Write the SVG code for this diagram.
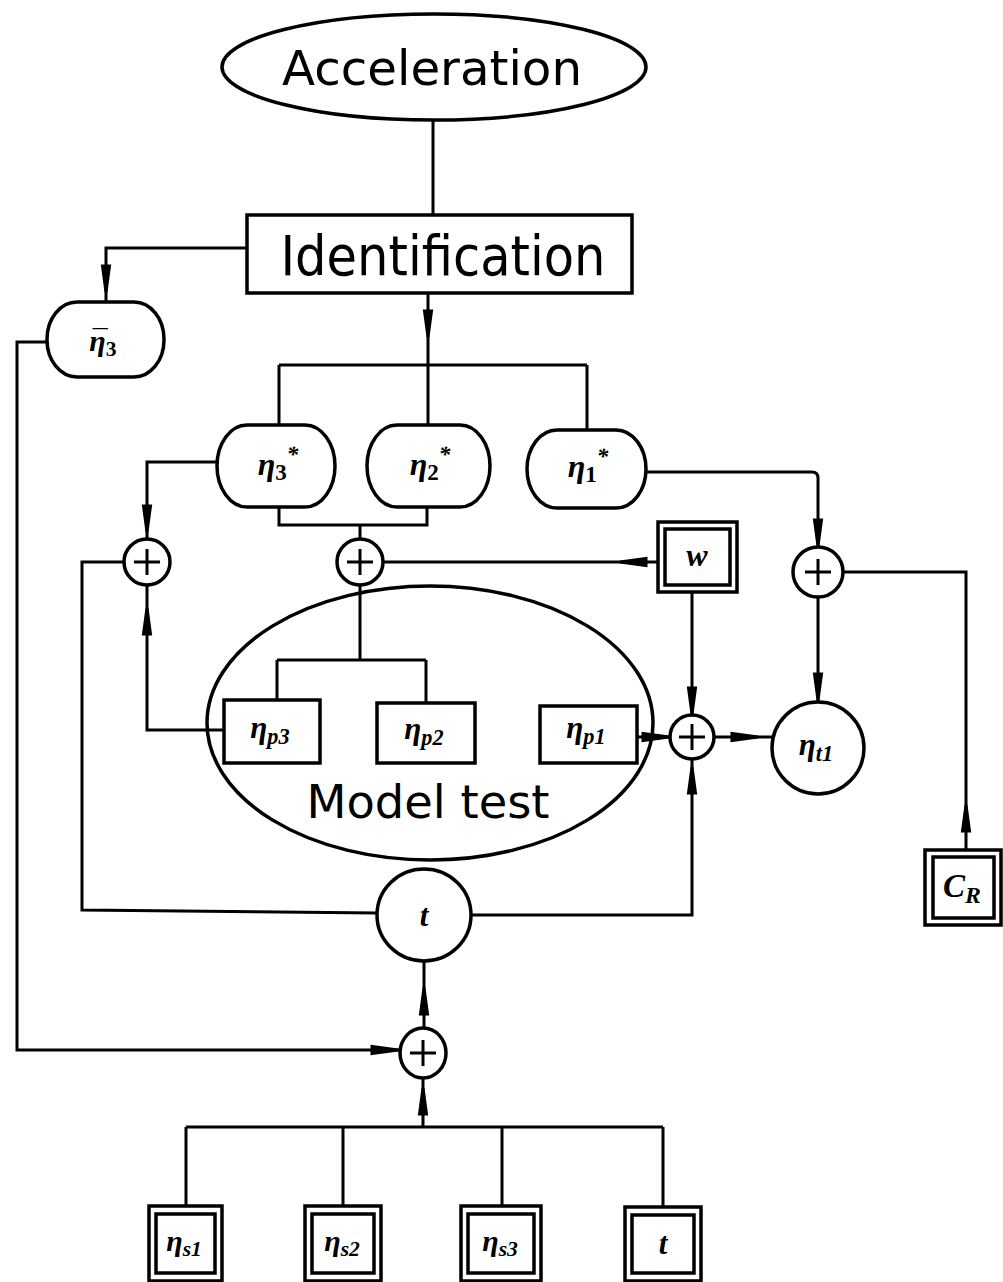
<svg xmlns="http://www.w3.org/2000/svg" width="1003" height="1282" viewBox="0 0 1003 1282">
<style>
.n{fill:#fff;stroke:#000;stroke-width:3.5}
.w{fill:none;stroke:#000;stroke-width:3}
.t{font-family:"DejaVu Sans",sans-serif;fill:#000;text-anchor:middle}
.m{font-family:"Liberation Serif",serif;font-style:italic;font-weight:bold;fill:#000;text-anchor:middle}
.s{font-size:72%}
</style>
<defs>
<path id="ar" d="M0,0 L-3.5,-26 L3.5,-26 Z" fill="#000"/>
<g id="plus"><line x1="-13" y1="0" x2="13" y2="0" stroke="#000" stroke-width="3"/><line x1="0" y1="-13" x2="0" y2="13" stroke="#000" stroke-width="3"/></g>
</defs>
<rect width="1003" height="1282" fill="#fff"/>
<g id="connectors" class="w">
<path d="M433,120 V215"/>
<path d="M247,248 H106 V302"/>
<path d="M47,342 H17 V1050 H399"/>
<path d="M428,293 V365 M279,365 H587 M279,365 V425 M428,365 V425 M587,365 V430"/>
<path d="M279,507 V525 H427 V507 M360,525 V539"/>
<path d="M217,462 H147 V539"/>
<path d="M124,562 H82 V910 L377,913"/>
<path d="M147,585 V730 H224"/>
<path d="M383,562 H658"/>
<path d="M360,585 V660 M277,660 H426 M277,660 V700 M426,660 V703"/>
<path d="M646,472 H812 Q818,472 818,478 V547"/>
<path d="M843,572 H966 V850"/>
<path d="M818,597 V702"/>
<path d="M692,592 V715"/>
<path d="M637,737 H670"/>
<path d="M714,737 H772"/>
<path d="M692,759 V915 H471"/>
<path d="M424,961 V1029"/>
<path d="M423,1077 V1127 M186,1127 H663 M186,1127 V1207 M343,1127 V1207 M502,1127 V1207 M663,1127 V1207"/>
<use href="#ar" transform="translate(106,292)"/>
<use href="#ar" transform="translate(428,337)"/>
<use href="#ar" transform="translate(147,532)"/>
<use href="#ar" transform="translate(147,608) rotate(180)"/>
<use href="#ar" transform="translate(620,562) rotate(90)"/>
<use href="#ar" transform="translate(692,714)"/>
<use href="#ar" transform="translate(692,767) rotate(180)"/>
<use href="#ar" transform="translate(669,737) rotate(-90)"/>
<use href="#ar" transform="translate(758,737) rotate(-90)"/>
<use href="#ar" transform="translate(818,546)"/>
<use href="#ar" transform="translate(818,700)"/>
<use href="#ar" transform="translate(966,805) rotate(180)"/>
<use href="#ar" transform="translate(424,988) rotate(180)"/>
<use href="#ar" transform="translate(398,1050) rotate(-90)"/>
<use href="#ar" transform="translate(423,1088) rotate(180)"/>
</g>
<g id="acceleration">
<ellipse class="n" cx="434" cy="67" rx="212" ry="53"/>
<text class="t" x="432" y="85" font-size="48" textLength="300" lengthAdjust="spacingAndGlyphs">Acceleration</text>
</g>
<g id="identification">
<rect class="n" x="247" y="215" width="385" height="78"/>
<text class="t" x="443" y="275" font-size="56" textLength="325" lengthAdjust="spacingAndGlyphs">Identification</text>
</g>
<g id="eta3bar">
<rect class="n" x="47" y="302" width="117" height="75" rx="30" ry="37"/>
<text class="m" x="103" y="351" font-size="30">η<tspan class="s" font-style="normal" dy="5">3</tspan></text>
<text class="m" x="98" y="350" font-size="30">¯</text>
</g>
<g id="eta3star">
<rect class="n" x="217" y="425" width="118" height="82" rx="30" ry="41"/>
<text class="m" x="278" y="475" font-size="32">η<tspan class="s" font-style="normal" dy="5">3</tspan><tspan class="s" dy="-18">*</tspan></text>
</g>
<g id="eta2star">
<rect class="n" x="367" y="425" width="123" height="82" rx="30" ry="41"/>
<text class="m" x="430" y="475" font-size="32">η<tspan class="s" font-style="normal" dy="5">2</tspan><tspan class="s" dy="-18">*</tspan></text>
</g>
<g id="eta1star">
<rect class="n" x="527" y="430" width="119" height="78" rx="30" ry="39"/>
<text class="m" x="588" y="477" font-size="32">η<tspan class="s" font-style="normal" dy="5">1</tspan><tspan class="s" dy="-18">*</tspan></text>
</g>
<g id="plus-left">
<circle class="n" cx="147" cy="562" r="23"/><use href="#plus" x="147" y="562"/>
</g>
<g id="plus-mid">
<circle class="n" cx="360" cy="562" r="23"/><use href="#plus" x="360" y="562"/>
</g>
<g id="plus-right">
<circle class="n" cx="818" cy="572" r="25"/><use href="#plus" x="818" y="572"/>
</g>
<g id="w">
<rect class="n" x="658" y="522" width="79" height="70"/>
<rect class="n" x="665" y="529" width="65" height="56" stroke-width="3"/>
<text class="m" x="697" y="566" font-size="32">w</text>
</g>
<g id="model-test">
<ellipse cx="430" cy="723" rx="223" ry="137" fill="none" stroke="#000" stroke-width="3.5"/>
<text class="t" x="428" y="818" font-size="46" textLength="243" lengthAdjust="spacingAndGlyphs">Model test</text>
</g>
<g id="eta-p3">
<rect class="n" x="224" y="700" width="96" height="63"/>
<text class="m" x="270" y="738" font-size="31">η<tspan class="s" dy="6">p3</tspan></text>
</g>
<g id="eta-p2">
<rect class="n" x="377" y="703" width="98" height="60"/>
<text class="m" x="424" y="739" font-size="31">η<tspan class="s" dy="6">p2</tspan></text>
</g>
<g id="eta-p1">
<rect class="n" x="540" y="706" width="97" height="57"/>
<text class="m" x="586" y="738" font-size="31">η<tspan class="s" dy="6">p1</tspan></text>
</g>
<g id="plus-lower">
<circle class="n" cx="692" cy="737" r="22"/><use href="#plus" x="692" y="737"/>
</g>
<g id="eta-t1">
<circle class="n" cx="818" cy="748" r="46"/>
<text class="m" x="816" y="755" font-size="31">η<tspan class="s" dy="6">t1</tspan></text>
</g>
<g id="cr">
<rect class="n" x="925" y="850" width="76" height="75"/>
<rect class="n" x="933" y="857" width="61" height="61" stroke-width="3"/>
<text class="m" x="962" y="897" font-size="33">C<tspan class="s" dy="6">R</tspan></text>
</g>
<g id="t-node">
<ellipse class="n" cx="424" cy="915" rx="47" ry="46"/>
<text class="m" x="424" y="926" font-size="31">t</text>
</g>
<g id="plus-bottom">
<ellipse class="n" cx="423" cy="1053" rx="23" ry="25"/><use href="#plus" x="423" y="1053"/>
</g>
<g id="eta-s1">
<rect class="n" x="149" y="1206" width="73" height="75"/>
<rect class="n" x="156" y="1214" width="59" height="59" stroke-width="3"/>
<text class="m" x="184" y="1251" font-size="30">η<tspan class="s" dy="5">s1</tspan></text>
</g>
<g id="eta-s2">
<rect class="n" x="305" y="1206" width="76" height="75"/>
<rect class="n" x="312" y="1214" width="62" height="59" stroke-width="3"/>
<text class="m" x="342" y="1251" font-size="30">η<tspan class="s" dy="5">s2</tspan></text>
</g>
<g id="eta-s3">
<rect class="n" x="461" y="1206" width="80" height="75"/>
<rect class="n" x="468" y="1214" width="66" height="59" stroke-width="3"/>
<text class="m" x="500" y="1251" font-size="30">η<tspan class="s" dy="5">s3</tspan></text>
</g>
<g id="t-box">
<rect class="n" x="625" y="1207" width="76" height="74"/>
<rect class="n" x="632" y="1215" width="62" height="58" stroke-width="3"/>
<text class="m" x="663" y="1254" font-size="31">t</text>
</g>
</svg>
